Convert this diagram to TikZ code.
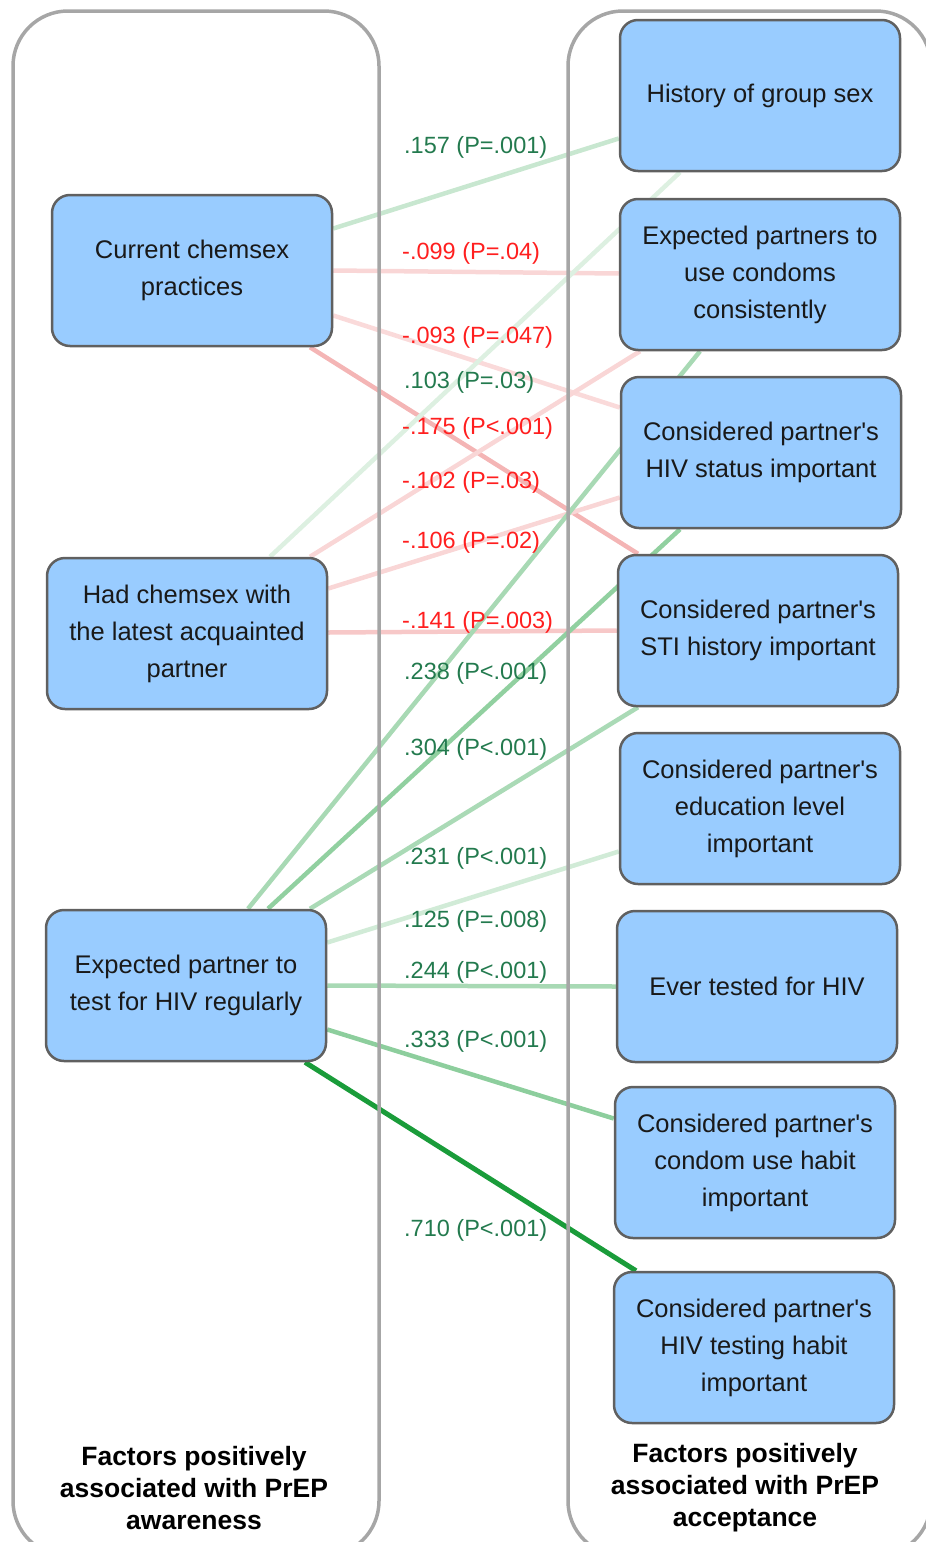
\documentclass[tikz,border=0pt]{standalone}
\usepackage{fontspec}
\setmainfont{Liberation Sans}
\usetikzlibrary{calc}
\pgfdeclarelayer{edges}
\pgfsetlayers{edges,main}
\definecolor{gbase}{RGB}{26,156,58}
\definecolor{rbase}{RGB}{225,50,50}
\definecolor{boxfill}{HTML}{99CCFF}
\definecolor{boxline}{HTML}{606060}
\definecolor{contline}{HTML}{A6A6A6}
\definecolor{gtext}{HTML}{237A4E}
\definecolor{rtext}{HTML}{FF1F1F}
\tikzset{
  factor/.style={draw=boxline, line width=2.5pt, fill=boxfill, rounded corners=18pt, minimum width=280pt, minimum height=151pt, inner sep=0pt, align=center, font=\fontsize{25.5}{37}\selectfont, text=black!90},
  container/.style={draw=contline, line width=3.5pt, rounded corners=55pt},
  glabel/.style={anchor=west, inner sep=0pt, text=gtext, font=\fontsize{23.5}{28}\selectfont},
  rlabel/.style={glabel, text=rtext},
  link/.style={line width=4.5pt},
  title/.style={align=center, font=\fontsize{26.5}{32}\selectfont\bfseries, inner sep=0pt}
}
\begin{document}
\begin{tikzpicture}[x=1pt,y=-1pt]
\useasboundingbox (0,0) rectangle (926,1542);
\clip (0,0) rectangle (926,1542);
\draw[container] (13,11) rectangle (379,1556);
\draw[container] (568,11) rectangle (931,1556);

% left factors
\node[factor] (cur) at (192,270.5) {Current chemsex\\practices};
\node[factor] (had) at (187,633.5) {Had chemsex with\\the latest acquainted\\partner};
\node[factor] (tst) at (186,985.5) {Expected partner to\\test for HIV regularly};

% right factors
\node[factor] (grp) at (760,95.5) {History of group sex};
\node[factor] (cond) at (760,274.5) {Expected partners to\\use condoms\\consistently};
\node[factor] (hiv) at (761,452.5) {Considered partner\textquotesingle s\\HIV status important};
\node[factor] (sti) at (758,630.5) {Considered partner\textquotesingle s\\STI history important};
\node[factor] (edu) at (760,808.5) {Considered partner\textquotesingle s\\education level\\important};
\node[factor] (test) at (757,986.5) {Ever tested for HIV};
\node[factor] (cuh) at (755,1162.5) {Considered partner\textquotesingle s\\condom use habit\\important};
\node[factor] (hth) at (754,1347.5) {Considered partner\textquotesingle s\\HIV testing habit\\important};

% titles
\node[title] (tl) at (194,1488) {Factors positively\\associated with PrEP\\awareness};
\node[title] (tr) at (745,1488) {Factors positively\\associated with PrEP\\acceptance};

% connectors
\begin{pgfonlayer}{edges}
\draw[link, gbase!24!white] ($(cur.east)+(0,-42)$) -- ($(grp.west)+(0,43)$);
\draw[link, rbase!20!white] (cur.east) -- ($(cond.west)+(0,-1)$);
\draw[link, rbase!18!white] ($(cur.east)+(0,45)$) -- ($(hiv.west)+(0,-45)$);
\draw[link, rbase!36!white] ($(cur.south)+(118,0)$) -- ($(sti.north)+(-120,0)$);
\draw[link, gbase!15!white] ($(had.north)+(83,0)$) -- ($(grp.south)+(-80,0)$);
\draw[link, rbase!20!white] ($(had.north)+(123,0)$) -- ($(cond.south)+(-120,0)$);
\draw[link, rbase!20!white] ($(had.east)+(0,-45)$) -- ($(hiv.west)+(0,45)$);
\draw[link, rbase!27!white] ($(had.east)+(0,-1)$) -- (sti.west);
\draw[link, gbase!38!white] ($(tst.north)+(62,0)$) -- ($(cond.south)+(-60,0)$);
\draw[link, gbase!48!white] ($(tst.north)+(82,0)$) -- ($(hiv.south)+(-81,0)$);
\draw[link, gbase!37!white] ($(tst.north)+(124,0)$) -- ($(sti.south)+(-120,0)$);
\draw[link, gbase!20!white] ($(tst.east)+(0,-43)$) -- ($(edu.west)+(0,43)$);
\draw[link, gbase!38!white] (tst.east) -- (test.west);
\draw[link, gbase!50!white] ($(tst.east)+(0,44)$) -- ($(cuh.west)+(0,-44)$);
\draw[line width=5pt, gbase] ($(tst.south)+(119,0)$) -- ($(hth.north)+(-118,0)$);
\end{pgfonlayer}

% labels
\node[glabel] (l1) at (404,147) {.157 (P=.001)};
\node[rlabel] (l2) at (402,253) {-.099 (P=.04)};
\node[rlabel] (l3) at (402,337) {-.093 (P=.047)};
\node[glabel] (l4) at (404,382) {.103 (P=.03)};
\node[rlabel] (l5) at (402,428) {-.175 (P<.001)};
\node[rlabel] (l6) at (402,482) {-.102 (P=.03)};
\node[rlabel] (l7) at (402,542) {-.106 (P=.02)};
\node[rlabel] (l8) at (402,622) {-.141 (P=.003)};
\node[glabel] (l9) at (404,673) {.238 (P<.001)};
\node[glabel] (l10) at (404,749) {.304 (P<.001)};
\node[glabel] (l11) at (404,858) {.231 (P<.001)};
\node[glabel] (l12) at (404,921) {.125 (P=.008)};
\node[glabel] (l13) at (404,972) {.244 (P<.001)};
\node[glabel] (l14) at (404,1041) {.333 (P<.001)};
\node[glabel] (l15) at (404,1230) {.710 (P<.001)};
\end{tikzpicture}
\end{document}
